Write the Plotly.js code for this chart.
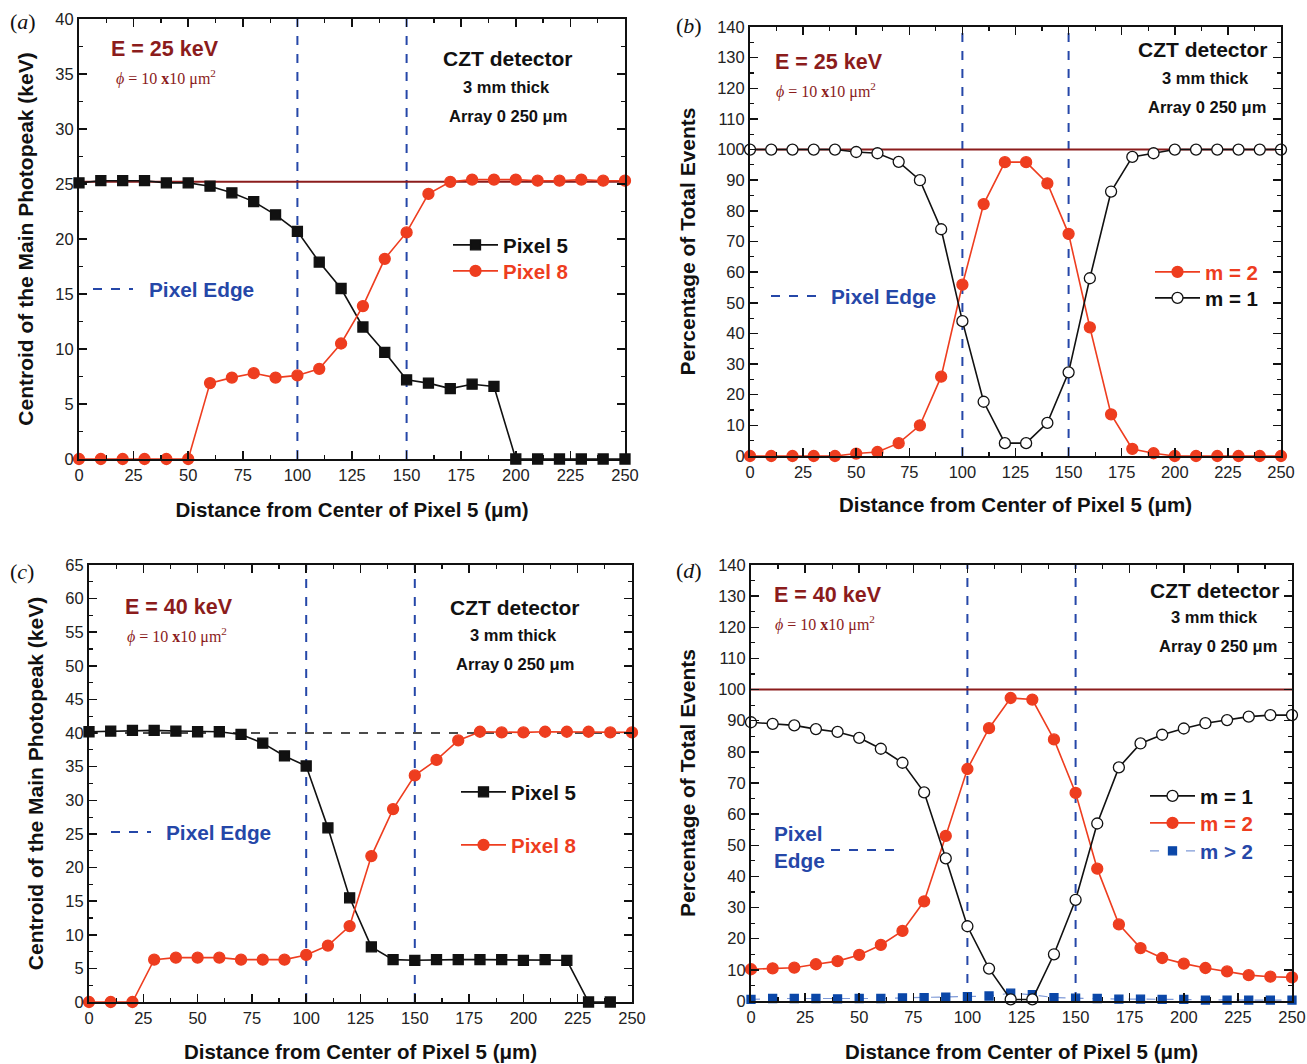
<!DOCTYPE html>
<html>
<head>
<meta charset="utf-8">
<script src="https://cdn.plot.ly/plotly-3.0.1.min.js"></script>
<style>html,body{margin:0;padding:0;background:#fff;}#chart{width:1307px;height:1064px;}</style>
</head>
<body>
<div id="chart"></div>
<script>
// ---------- data ----------
const xPos = [0,10,20,30,40,50,60,70,80,90,100,110,120,130,140,150,160,170,180,190,200,210,220,230,240,250];
const pixelEdges = [100,150];

const aPixel5 = [25.1,25.3,25.3,25.3,25.1,25.1,24.8,24.2,23.4,22.2,20.7,17.9,15.5,12.0,9.7,7.2,6.9,6.4,6.8,6.6,0,0,0,0,0,0];
const aPixel8 = [0,0,0,0,0,0,6.9,7.4,7.8,7.4,7.6,8.2,10.5,13.9,18.2,20.6,24.1,25.2,25.4,25.4,25.4,25.3,25.3,25.4,25.3,25.3];
const aRef = 25.2;

const bM2 = [0,0,0,0,0,0.8,1.3,4.2,10,25.9,55.9,82.2,95.9,95.9,89,72.5,42,13.6,2.3,0.9,0,0,0,0,0,0];
const bM1 = [100,100,100,100,100,99.2,98.8,96,90,74,44,17.7,4.2,4.2,10.8,27.3,58,86.3,97.6,98.8,100,100,100,100,100,100];
const bRef = 100;

const cPixel5 = [40.2,40.3,40.4,40.4,40.3,40.2,40.2,39.8,38.5,36.6,35.1,25.9,15.5,8.2,6.3,6.2,6.3,6.3,6.3,6.3,6.2,6.3,6.2,0,0,null];
const cPixel8 = [0,0,0,6.3,6.6,6.6,6.6,6.3,6.3,6.3,7.0,8.4,11.3,21.7,28.7,33.7,36.0,38.9,40.2,40.1,40.1,40.2,40.2,40.2,40.1,40.1];
const cRef = 40;

const dM1 = [89.5,89,88.5,87.3,86.4,84.5,81,76.5,67,45.8,24,10.4,0.5,0.5,15,32.5,57,75,82.7,85.5,87.5,89.2,90.2,91.3,91.8,91.8];
const dM2 = [10.2,10.5,10.7,11.8,12.8,14.8,18,22.5,32,53,74.5,87.6,97.3,96.8,84,66.8,42.5,24.6,17,13.8,12,10.6,9.5,8.3,7.8,7.6];
const dM3 = [0.5,0.8,0.8,0.8,0.7,0.8,0.8,1.0,1.1,1.2,1.4,1.6,2.5,2.0,1.1,0.9,0.8,0.6,0.6,0.5,0.5,0.3,0.3,0.3,0.3,0.3];
const dRef = 100;

// ---------- styles ----------
const W = 1307, H = 1064;
const px = v => v / W;
const py = v => 1 - v / H;
const RED = '#ee3d1f', BLACK = '#111111', DARKRED = '#8b1c1c', BLUE = '#2547a8', LBLUE = '#7f9ad8', MBLUE = '#0b47a8';
const SANS = 'Liberation Sans, Arial, sans-serif';
const SERIF = 'Liberation Serif, Times New Roman, serif';

function series(x, y, xa, ya, name, color, symbol, fill, legend, size, dash, lw) {
  return {
    x: x, y: y, xaxis: xa, yaxis: ya, type: 'scatter', mode: 'lines+markers', name: name,
    line: {color: color, width: lw || 1.6, dash: dash || 'solid'},
    marker: {symbol: symbol, size: size || 10, color: fill, line: {color: color === LBLUE ? MBLUE : color, width: 1.3}},
    cliponaxis: false, showlegend: true, legend: legend
  };
}

const traces = [
  series(xPos, aPixel5, 'x', 'y', '<span style="color:#111">Pixel 5</span>', BLACK, 'square', BLACK, 'legend', 10),
  series(xPos, aPixel8, 'x', 'y', '<span style="color:#ee3d1f">Pixel 8</span>', RED, 'circle', RED, 'legend2', 11),
  series(xPos, bM2, 'x2', 'y2', '<span style="color:#ee3d1f">m = 2</span>', RED, 'circle', RED, 'legend3', 11),
  series(xPos, bM1, 'x2', 'y2', '<span style="color:#111">m = 1</span>', BLACK, 'circle', '#ffffff', 'legend4', 11),
  series(xPos, cPixel5, 'x3', 'y3', '<span style="color:#111">Pixel 5</span>', BLACK, 'square', BLACK, 'legend5', 10),
  series(xPos, cPixel8, 'x3', 'y3', '<span style="color:#ee3d1f">Pixel 8</span>', RED, 'circle', RED, 'legend6', 11),
  series(xPos, dM3, 'x4', 'y4', '<span style="color:#2547a8">m &gt; 2</span>', LBLUE, 'square', MBLUE, 'legend9', 8, 'dash', 1.2),
  series(xPos, dM2, 'x4', 'y4', '<span style="color:#ee3d1f">m = 2</span>', RED, 'circle', RED, 'legend8', 11),
  series(xPos, dM1, 'x4', 'y4', '<span style="color:#111">m = 1</span>', BLACK, 'circle', '#ffffff', 'legend7', 11)
];

// ---------- axes ----------
function xAxis(d0, d1, anchor, standoff) {
  return {
    domain: [px(d0), px(d1)], anchor: anchor, range: [0, 250], dtick: 25, tick0: 0,
    ticks: 'inside', ticklen: 8, tickwidth: 1.5, tickcolor: '#111', mirror: 'allticks',
    showline: true, linewidth: 2, linecolor: '#111', showgrid: false, zeroline: false,
    minor: {ticks: 'inside', ticklen: 4, tickwidth: 1.2, tickcolor: '#111', dtick: 12.5, showgrid: false},
    tickfont: {family: SANS, size: 16.5, color: '#222'},
    title: {text: 'Distance from Center of Pixel 5 (μm)', standoff: standoff, font: {family: SANS, size: 20.5, weight: 'bold', color: '#111'}}
  };
}
function yAxis(d0, d1, anchor, max, dt, minorDt, standoff, title) {
  return {
    domain: [py(d1), py(d0)], anchor: anchor, range: [0, max], dtick: dt, tick0: 0,
    ticks: 'inside', ticklen: 8, tickwidth: 1.5, tickcolor: '#111', mirror: 'allticks',
    showline: true, linewidth: 2, linecolor: '#111', showgrid: false, zeroline: false,
    minor: {ticks: 'inside', ticklen: 4, tickwidth: 1.2, tickcolor: '#111', dtick: minorDt, showgrid: false},
    tickfont: {family: SANS, size: 16.5, color: '#222'},
    title: {text: title, standoff: standoff, font: {family: SANS, size: 21, weight: 'bold', color: '#111'}}
  };
}

const TITLE_KEV = 'Centroid of the Main Photopeak (keV)';
const TITLE_PCT = 'Percentage of Total Events';
const layout = {
  width: W, height: H, margin: {l: 0, r: 0, t: 0, b: 0},
  paper_bgcolor: '#fff', plot_bgcolor: '#fff', showlegend: true,
  xaxis: xAxis(79, 625, 'y', 20),
  yaxis: yAxis(19, 459, 'x', 40, 5, 2.5, 16, TITLE_KEV),
  xaxis2: xAxis(750, 1281, 'y2', 18),
  yaxis2: yAxis(27, 456, 'x2', 140, 10, 5, 16, TITLE_PCT),
  xaxis3: xAxis(89, 632, 'y3', 19),
  yaxis3: yAxis(565, 1002, 'x3', 65, 5, 2.5, 16, TITLE_KEV),
  xaxis4: xAxis(751, 1292, 'y4', 20),
  yaxis4: yAxis(565, 1001, 'x4', 140, 10, 5, 17, TITLE_PCT),
  shapes: [], annotations: []
};

// legends: one per entry for exact placement
function leg(textLeft, yc) {
  return {x: px(textLeft - 55), y: py(yc), xanchor: 'left', yanchor: 'middle', xref: 'paper', yref: 'paper',
    bgcolor: 'rgba(0,0,0,0)', borderwidth: 0, itemwidth: 45,
    font: {family: SANS, size: 20.5, weight: 'bold', color: '#111'}};
}
layout.legend = leg(503, 245);
layout.legend2 = leg(503, 271);
layout.legend3 = leg(1205, 272);
layout.legend4 = leg(1205, 298);
layout.legend5 = leg(511, 792);
layout.legend6 = leg(511, 845);
layout.legend7 = leg(1200, 796);
layout.legend8 = leg(1200, 823);
layout.legend9 = leg(1200, 851);

// pixel-edge verticals and reference lines
const panels = [
  {xa: 'x', ya: 'y', ref: aRef, refColor: DARKRED, refDash: 'solid'},
  {xa: 'x2', ya: 'y2', ref: bRef, refColor: DARKRED, refDash: 'solid'},
  {xa: 'x3', ya: 'y3', ref: cRef, refColor: BLACK, refDash: 'dash'},
  {xa: 'x4', ya: 'y4', ref: dRef, refColor: DARKRED, refDash: 'solid'}
];
panels.forEach(p => {
  pixelEdges.forEach(e => layout.shapes.push({type: 'line', xref: p.xa, yref: p.ya + ' domain', x0: e, x1: e, y0: 0, y1: 1,
    line: {color: BLUE, width: 2, dash: 'dash'}, layer: 'below'}));
  layout.shapes.push({type: 'line', xref: p.xa + ' domain', yref: p.ya, x0: 0, x1: 1, y0: p.ref, y1: p.ref,
    line: {color: p.refColor, width: p.refDash === 'dash' ? 1.5 : 2, dash: p.refDash}, layer: 'below'});
});

// pixel-edge legend dashes
function edgeDash(x0, x1, y) {
  layout.shapes.push({type: 'line', xref: 'paper', yref: 'paper', x0: px(x0), x1: px(x1), y0: py(y), y1: py(y),
    line: {color: BLUE, width: 2, dash: 'dash'}});
}
edgeDash(93, 133, 289);
edgeDash(771, 822, 296);
edgeDash(111, 151, 832);
edgeDash(831, 902, 850);

function ann(text, x, y, xanchor, size, color, family, weight) {
  layout.annotations.push({text: text, x: px(x), y: py(y), xref: 'paper', yref: 'paper', xanchor: xanchor, yanchor: 'middle',
    showarrow: false, font: {family: family || SANS, size: size, color: color, weight: weight || 'bold'}});
}
const PHI = '<i>ϕ</i> = 10 <b>x</b>10 μm<sup>2</sup>';
// panel labels
ann('(<i>a</i>)', 8, 22, 'left', 22, '#111', SERIF, 'normal');
ann('(<i>b</i>)', 674, 25, 'left', 22, '#111', SERIF, 'normal');
ann('(<i>c</i>)', 8, 571, 'left', 22, '#111', SERIF, 'normal');
ann('(<i>d</i>)', 674, 570, 'left', 22, '#111', SERIF, 'normal');
// panel a
ann('E = 25 keV', 109, 49, 'left', 21.5, DARKRED);
ann(PHI, 114, 77, 'left', 16, DARKRED, SERIF, 'normal');
ann('CZT detector', 508, 59, 'center', 21, '#111');
ann('3 mm thick', 506, 87, 'center', 16.5, '#111');
ann('Array 0 250 μm', 508, 116, 'center', 16.5, '#111');
ann('Pixel Edge', 147, 289, 'left', 20.8, BLUE);
// panel b
ann('E = 25 keV', 773, 62, 'left', 21.5, DARKRED);
ann(PHI, 774, 90, 'left', 16, DARKRED, SERIF, 'normal');
ann('CZT detector', 1270, 50, 'right', 21, '#111');
ann('3 mm thick', 1205, 78, 'center', 16.5, '#111');
ann('Array 0 250 μm', 1207, 107, 'center', 16.5, '#111');
ann('Pixel Edge', 829, 296, 'left', 20.8, BLUE);
// panel c
ann('E = 40 keV', 123, 607, 'left', 21.5, DARKRED);
ann(PHI, 125, 635, 'left', 16, DARKRED, SERIF, 'normal');
ann('CZT detector', 515, 607, 'center', 21, '#111');
ann('3 mm thick', 513, 635, 'center', 16.5, '#111');
ann('Array 0 250 μm', 515, 664, 'center', 16.5, '#111');
ann('Pixel Edge', 164, 832, 'left', 20.8, BLUE);
// panel d
ann('E = 40 keV', 772, 595, 'left', 21.5, DARKRED);
ann(PHI, 773, 623, 'left', 16, DARKRED, SERIF, 'normal');
ann('CZT detector', 1282, 590, 'right', 21, '#111');
ann('3 mm thick', 1214, 617, 'center', 16.5, '#111');
ann('Array 0 250 μm', 1218, 646, 'center', 16.5, '#111');
ann('Pixel', 772, 833, 'left', 20.8, BLUE);
ann('Edge', 772, 860, 'left', 20.8, BLUE);

Plotly.newPlot('chart', traces, layout, {displayModeBar: false, staticPlot: true});
</script>
</body>
</html>
